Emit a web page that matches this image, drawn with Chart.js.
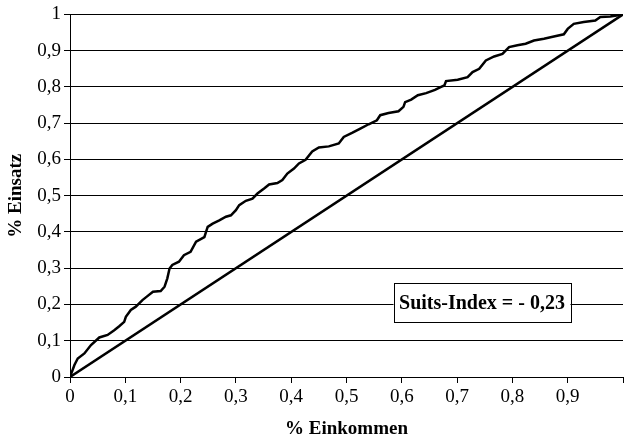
<!DOCTYPE html>
<html>
<head>
<meta charset="utf-8">
<script src="https://cdn.jsdelivr.net/npm/chart.js@4"></script>
<style>
  html, body { margin: 0; padding: 0; background: #fff; }
  #wrap { width: 626px; height: 440px; }
</style>
</head>
<body>
<div id="wrap"><canvas id="suitsChart"></canvas></div>
<script>
// cumulative share of income (x) vs. cumulative share of stakes (y)
const incomeShare = [
  0, 0.008, 0.014, 0.026, 0.038, 0.053, 0.068, 0.080, 0.089, 0.098,
  0.101, 0.110, 0.119, 0.131, 0.140, 0.150, 0.164, 0.171, 0.176, 0.180,
  0.185, 0.197, 0.206, 0.218, 0.228, 0.243, 0.246, 0.249, 0.258, 0.270,
  0.282, 0.291, 0.300, 0.306, 0.318, 0.330, 0.339, 0.351, 0.360, 0.375,
  0.384, 0.393, 0.405, 0.414, 0.426, 0.438, 0.450, 0.468, 0.486, 0.495,
  0.510, 0.525, 0.540, 0.555, 0.561, 0.576, 0.594, 0.603, 0.606, 0.617,
  0.629, 0.644, 0.660, 0.671, 0.677, 0.680, 0.701, 0.719, 0.728, 0.740,
  0.752, 0.767, 0.782, 0.794, 0.809, 0.824, 0.839, 0.857, 0.875, 0.893,
  0.900, 0.911, 0.929, 0.950, 0.959, 0.977, 1
];
const stakeShare = [
  0, 0.033, 0.051, 0.065, 0.088, 0.109, 0.116, 0.129, 0.140, 0.152,
  0.166, 0.185, 0.194, 0.212, 0.223, 0.235, 0.237, 0.249, 0.272, 0.299,
  0.309, 0.318, 0.336, 0.345, 0.373, 0.386, 0.400, 0.414, 0.423, 0.432,
  0.442, 0.446, 0.460, 0.474, 0.486, 0.492, 0.506, 0.520, 0.531, 0.535,
  0.543, 0.561, 0.575, 0.589, 0.599, 0.622, 0.633, 0.636, 0.644, 0.662,
  0.673, 0.685, 0.697, 0.708, 0.722, 0.728, 0.733, 0.745, 0.758, 0.765,
  0.777, 0.783, 0.792, 0.800, 0.804, 0.816, 0.820, 0.827, 0.841, 0.850,
  0.873, 0.884, 0.891, 0.910, 0.915, 0.919, 0.928, 0.933, 0.939, 0.945,
  0.960, 0.974, 0.979, 0.983, 0.993, 0.994, 1
];
const equalityX = [0, 1];
const equalityY = [0, 1];
const suitsLabel = "Suits-Index = - 0,23";

const serif = "'Liberation Serif', 'Times New Roman', serif";

function fmt(v) {
  const r = Math.round(v * 10) / 10;
  return String(r).replace(".", ",");
}

const suitsBox = {
  id: "suitsBox",
  afterDatasetsDraw(chart) {
    const { ctx, scales } = chart;
    const x0 = scales.x.getPixelForValue(0.585);
    const x1 = scales.x.getPixelForValue(0.905);
    const y0 = scales.y.getPixelForValue(0.259);
    const y1 = scales.y.getPixelForValue(0.152);
    ctx.save();
    ctx.fillStyle = "#fff";
    ctx.fillRect(x0, y0, x1 - x0, y1 - y0);
    ctx.strokeStyle = "#000";
    ctx.lineWidth = 1;
    ctx.strokeRect(Math.round(x0) + 0.5, Math.round(y0) + 0.5, Math.round(x1 - x0), Math.round(y1 - y0));
    ctx.fillStyle = "#000";
    ctx.font = "bold 20px " + serif;
    ctx.textAlign = "center";
    ctx.textBaseline = "middle";
    ctx.fillText(suitsLabel, (x0 + x1) / 2, (y0 + y1) / 2 + 1);
    ctx.restore();
  },
};

new Chart(document.getElementById("suitsChart"), {
  type: "scatter",
  data: {
    datasets: [
      {
        data: incomeShare.map((x, i) => ({ x: x, y: stakeShare[i] })),
        showLine: true,
        borderColor: "#000",
        borderWidth: 2.5,
        pointRadius: 0,
        tension: 0,
      },
      {
        data: equalityX.map((x, i) => ({ x: x, y: equalityY[i] })),
        showLine: true,
        borderColor: "#000",
        borderWidth: 2.5,
        pointRadius: 0,
      },
    ],
  },
  options: {
    responsive: true,
    maintainAspectRatio: false,
    animation: false,
    layout: { padding: { top: 14, right: 0, left: 0, bottom: 0 } },
    plugins: {
      legend: { display: false },
      tooltip: { enabled: false },
    },
    scales: {
      x: {
        type: "linear",
        min: 0,
        max: 1,
        afterFit(scale) {
          scale.height = 63;
        },
        ticks: {
          stepSize: 0.1,
          color: "#000",
          font: { family: serif, size: 19 },
          padding: 3,
          maxRotation: 0,
          callback: (v) => (v >= 0.99 ? "" : fmt(v)),
        },
        grid: {
          drawOnChartArea: false,
          drawTicks: true,
          tickLength: 6,
          color: "#000",
        },
        border: { color: "#000", width: 1 },
        title: {
          display: true,
          text: "% Einkommen",
          color: "#000",
          font: { family: serif, size: 19, weight: "bold" },
          padding: { top: 4, bottom: 0 },
        },
      },
      y: {
        min: 0,
        max: 1,
        afterFit(scale) {
          scale.width = 70;
        },
        ticks: {
          stepSize: 0.1,
          color: "#000",
          font: { family: serif, size: 19 },
          padding: 3,
          callback: (v) => fmt(v),
        },
        grid: {
          color: "#000",
          lineWidth: 1,
          tickLength: 6,
        },
        border: { color: "#000", width: 1 },
        title: {
          display: true,
          text: "% Einsatz",
          color: "#000",
          font: { family: serif, size: 19, weight: "bold" },
          padding: { top: 5, bottom: 0 },
        },
      },
    },
  },
  plugins: [suitsBox],
});
</script>
</body>
</html>
